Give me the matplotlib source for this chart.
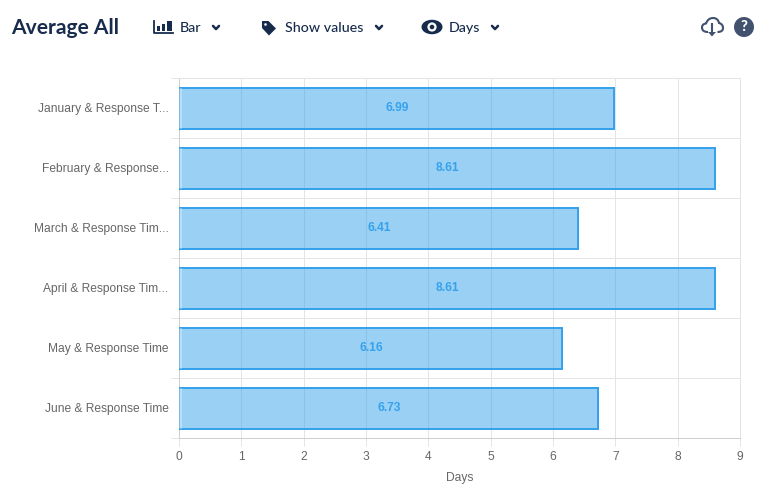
import matplotlib
matplotlib.use("Agg")
import matplotlib.pyplot as plt
from matplotlib.patches import Circle, Rectangle, Polygon, Ellipse, PathPatch
from matplotlib.path import Path
from matplotlib.ticker import FixedLocator
from matplotlib.transforms import Affine2D

categories = ["January & Response T...", "February & Response...", "March & Response Tim...",
              "April & Response Tim...", "May & Response Time", "June & Response Time"]
values = [6.99, 8.61, 6.41, 8.61, 6.16, 6.73]
x_ticks = [0, 1, 2, 3, 4, 5, 6, 7, 8, 9]
x_label = "Days"
title = "Average All"
menu_labels = ["Bar", "Show values", "Days"]

W, H = 776, 498
px = 72 / 100
NAVY = "#172B4D"
GRID = "#E4E4E4"
TXT = "#666666"
BLUE = "#36A2EB"
ICON = "#42526E"
BAR_H = 0.69

fig = plt.figure(figsize=(W / 100, H / 100), dpi=100, facecolor="white")
ax = fig.add_axes([179.0 / W, 1 - 437.9 / H, 561 / W, 360 / H])

ys = list(range(len(categories)))
down = ax.transData + Affine2D().translate(0, -0.7)
bars = ax.barh(ys, values, height=BAR_H, facecolor=(54/255, 162/255, 235/255, 0.5),
               edgecolor="none", zorder=3)
for b in bars:
    b.set_transform(down)
inset = ax.transData + Affine2D().translate(-1, -0.7)
lighter = ax.transData + Affine2D().translate(2, -0.7)
for y, v in zip(ys, values):
    y0, y1 = y - BAR_H / 2, y + BAR_H / 2
    ax.plot([0, v, v, 0], [y0, y0, y1, y1], color=BLUE, lw=2 * px, transform=inset, zorder=3.5,
            solid_joinstyle="miter", solid_capstyle="butt")
    ax.plot([0, 0], [y0, y1], color="white", alpha=0.3, lw=2 * px, transform=lighter, zorder=3.5,
            solid_capstyle="butt")
ax.set_xlim(0, 9)
ax.set_ylim(len(categories) - 0.5, -0.5)
ax.set_axisbelow(True)

ax.xaxis.set_major_locator(FixedLocator(x_ticks))
ax.set_xticklabels([str(t) for t in x_ticks], fontfamily="Liberation Sans", fontsize=12 * px, color=TXT)
ax.set_yticks(ys)
ax.set_yticklabels(categories, fontfamily="Liberation Sans", fontsize=12 * px, color=TXT)
ax.yaxis.set_minor_locator(FixedLocator([y - 0.5 for y in ys] + [len(ys) - 0.5]))
ax.tick_params(axis="y", which="major", length=0, pad=7.4)
ax.tick_params(axis="y", which="minor", length=8 * px, width=1 * px, color=GRID)
ax.tick_params(axis="x", length=8 * px, width=1 * px, color=GRID, pad=3.4)
ax.grid(True, axis="x", color=GRID, linewidth=1 * px)
ax.grid(True, axis="y", which="minor", color=GRID, linewidth=1 * px)
ax.grid(False, axis="y", which="major")
for name, sp in ax.spines.items():
    sp.set_color(GRID)
    sp.set_linewidth(1 * px)
ax.spines["left"].set_color("#CFCFCF")
ax.spines["bottom"].set_color("#CFCFCF")
ax.set_xlabel(x_label, fontfamily="Liberation Sans", fontsize=12 * px, color=TXT, labelpad=6.4)

for y, v in zip(ys, values):
    ax.text(v / 2, y, f"{v:.2f}", ha="center", va="center", color=BLUE, fontsize=12 * px,
            fontweight="bold", fontfamily="Liberation Sans", zorder=4)

# toolbar overlay, in pixel coordinates
ov = fig.add_axes([0, 0, 1, 1], facecolor="none")
ov.set_xlim(0, W)
ov.set_ylim(H, 0)
ov.axis("off")

ov.text(11, 27.5, title, fontfamily="Lato", fontweight="bold", fontsize=21 * px, color=NAVY, va="center", ha="left")
for lx, label in zip([180, 285, 449], menu_labels):
    ov.text(lx, 27.5, label, fontfamily="Lato", fontsize=14.3 * px, color=NAVY, va="center", ha="left", fontweight="medium")

def chevron(cx, cy=27.5):
    ov.plot([cx - 3, cx, cx + 3], [cy - 1.6, cy + 1.6, cy - 1.6], color=NAVY, lw=2.5 * px,
            solid_capstyle="round", solid_joinstyle="round")
for cx in [216, 379, 495]:
    chevron(cx)

# bar-chart icon
ov.plot([154, 154, 172.5], [20.5, 33, 33], color=NAVY, lw=1.8 * px)
for bx, top in [(157, 26), (161.5, 24), (166.5, 21)]:
    ov.add_patch(Rectangle((bx, top), 3.4 if bx < 166 else 5, 31 - top, color=NAVY, lw=0))
# tag icon
ov.add_patch(Polygon([(262, 21), (268.5, 21), (276, 28.5), (269, 35.5), (262, 28)], closed=True, color=NAVY, lw=0))
ov.add_patch(Circle((265.5, 24.5), 1.3, color="white", lw=0))
# eye icon
ov.add_patch(Ellipse((432, 27), 21, 14.5, color=NAVY, lw=0))
ov.add_patch(Circle((432, 27), 4.6, color="white", lw=0))
ov.add_patch(Circle((432, 27), 2.3, color=NAVY, lw=0))
# cloud-download icon
cloud_pts = [(708, 32), (702, 32), (702, 27.5), (702, 24), (706, 23.5), (708, 18), (713, 18),
             (718, 18), (719, 23), (723, 24), (723, 28), (723, 32), (717.5, 32)]
cloud_codes = [Path.MOVETO] + [Path.CURVE3] * 12
ov.add_patch(PathPatch(Path(cloud_pts, cloud_codes), fc="none", ec=ICON, lw=2.1 * px))
ov.plot([712, 712], [24, 34], color=ICON, lw=2.1 * px)
ov.add_patch(Polygon([(708, 32), (716, 32), (712, 36.5)], closed=True, color=ICON, lw=0))
# help icon
ov.add_patch(Circle((744, 27), 10, color=ICON, lw=0))
ov.text(744, 27, "?", color="white", fontfamily="Lato", fontweight="black", fontsize=15 * px, ha="center", va="center")

fig.savefig("out.png", dpi=100, facecolor="white")
